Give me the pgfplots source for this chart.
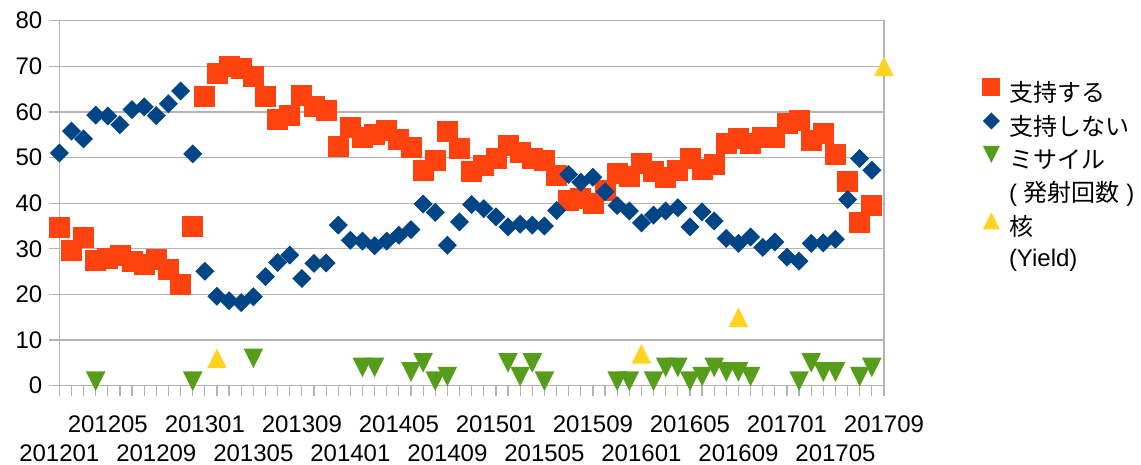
\documentclass[border=0pt]{standalone}
\usepackage{pgfplots}
\usepackage{pgfplotstable}
\pgfplotsset{compat=1.18}
\usepackage{fontspec}
\setmainfont{Liberation Sans}
\newfontfamily\jp{Noto Sans CJK JP}
\definecolor{cred}{HTML}{FF420E}
\definecolor{cblue}{HTML}{004586}
\definecolor{cgreen}{HTML}{579D1C}
\definecolor{cyellow}{HTML}{FFD320}
\definecolor{cgrid}{HTML}{B3B3B3}

\pgfdeclareplotmark{tup}{%
 \pgfpathmoveto{\pgfqpoint{0pt}{\pgfplotmarksize}}%
 \pgfpathlineto{\pgfqpoint{\pgfplotmarksize}{-\pgfplotmarksize}}%
 \pgfpathlineto{\pgfqpoint{-\pgfplotmarksize}{-\pgfplotmarksize}}%
 \pgfpathclose\pgfusepathqfill}
\pgfdeclareplotmark{tdn}{%
 \pgfpathmoveto{\pgfqpoint{0pt}{-\pgfplotmarksize}}%
 \pgfpathlineto{\pgfqpoint{\pgfplotmarksize}{\pgfplotmarksize}}%
 \pgfpathlineto{\pgfqpoint{-\pgfplotmarksize}{\pgfplotmarksize}}%
 \pgfpathclose\pgfusepathqfill}
\pgfdeclareplotmark{dia}{%
 \pgfpathmoveto{\pgfqpoint{0pt}{\pgfplotmarksize}}%
 \pgfpathlineto{\pgfqpoint{\pgfplotmarksize}{0pt}}%
 \pgfpathlineto{\pgfqpoint{0pt}{-\pgfplotmarksize}}%
 \pgfpathlineto{\pgfqpoint{-\pgfplotmarksize}{0pt}}%
 \pgfpathclose\pgfusepathqfill}

\pgfplotstableread{
i s n
0 34.8 51.0
1 29.6 55.8
2 32.4 54.1
3 27.5 59.3
4 27.8 59.1
5 28.6 57.2
6 27.2 60.5
7 26.6 61.1
8 27.7 59.2
9 25.5 61.8
10 22.2 64.6
11 35.0 50.8
12 63.4 25.1
13 68.4 19.6
14 69.9 18.6
15 69.5 18.2
16 67.7 19.5
17 63.4 23.9
18 58.3 27.0
19 59.3 28.6
20 63.7 23.5
21 61.3 26.8
22 60.3 26.9
23 52.5 35.2
24 56.7 31.9
25 54.5 31.7
26 55.0 30.7
27 55.9 31.7
28 53.9 33.0
29 52.2 34.2
30 47.2 39.8
31 49.3 38.0
32 55.8 30.8
33 52.1 35.9
34 47.0 39.7
35 48.2 38.8
36 49.9 37.0
37 52.6 34.8
38 51.2 35.4
39 49.8 35.2
40 49.3 35.0
41 46.0 38.4
42 40.7 46.3
43 41.0 44.6
44 39.9 45.7
45 42.7 42.5
46 46.5 39.5
47 45.9 38.3
48 48.8 35.7
49 47.0 37.4
50 45.7 38.3
51 47.2 39.0
52 49.9 34.8
53 47.4 38.1
54 48.6 36.1
55 53.1 32.3
56 54.1 31.2
57 53.1 32.6
58 54.4 30.3
59 54.5 31.5
60 57.6 28.2
61 58.1 27.3
62 53.8 31.2
63 55.2 31.3
64 50.8 32.1
65 44.8 40.8
66 35.8 49.8
67 39.5 47.2
}\poll

\pgfplotstableread{
i m
3 1
11 1
16 6
25 4
26 4
29 3
30 5
31 1
32 2
37 5
38 2
39 5
40 1
46 1
47 1
49 1
50 4
51 4
52 1
53 2
54 4
55 3
56 3
57 2
61 1
62 5
63 3
64 3
66 2
67 4
}\missile

\pgfplotstableread{
i y
13 6
48 7
56 15
68 70
}\nuke

\begin{document}
\begin{tikzpicture}
\path[use as bounding box] (-29.65pt,-39.65pt) rectangle (540.85pt,192.85pt);
\begin{axis}[
  scale only axis,
  width=412.35pt, height=182.5pt,
  xmin=0, xmax=68, ymin=0, ymax=80,
  ytick={0,10,...,80},
  xtick={4,12,...,68},
  xticklabels={201205,201301,201309,201405,201501,201509,201605,201701,201709},
  extra x ticks={0,8,...,64},
  extra x tick labels={201201,201209,201305,201401,201409,201505,201601,201609,201705},
  xticklabel style={yshift=-6.3pt},
  extra x tick style={xticklabel style={yshift=-14.6pt}},
  minor xtick={0,...,68},
  tick align=outside,
  xtick pos=lower, ytick pos=left,
  major tick length=5pt, minor tick length=5pt,
  tick style={cgrid, line width=0.6pt},
  axis line style={cgrid, line width=0.6pt},
  ymajorgrids, grid style={cgrid, line width=0.6pt},
  /pgf/number format/assume math mode=true,
  tick label style={font=\fontsize{12}{14.4}\selectfont, black},
  legend style={at={(axis description cs:1.112,0.842)}, anchor=north west, draw=none, fill=none,
    font=\fontsize{12}{14.4}\selectfont, row sep=2.2pt, inner sep=0pt,
    nodes={inner sep=1.5pt}},
  legend cell align=left,
  legend image code/.code={\path (-0.25cm,0) (0.25cm,0); \draw[#1,mark size=4.25pt] plot coordinates {(0cm,0.3em)};},
]
\addplot[only marks, mark=square*, mark size=5pt, color=cred] table[x=i,y=s]{\poll};
\addlegendentry{{\jp 支持する}}
\addplot[only marks, mark=dia, mark size=4.75pt, color=cblue] table[x=i,y=n]{\poll};
\addlegendentry{{\jp 支持しない}}
\addplot[only marks, mark=tdn, mark size=4.9pt, color=cgreen] table[x=i,y=m]{\missile};
\addlegendentry{{\jp ミサイル}}
\addlegendimage{empty legend}
\addlegendentry{( {\jp 発射回数} )}
\addplot[only marks, mark=tup, mark size=4.9pt, color=cyellow] table[x=i,y=y]{\nuke};
\addlegendentry{{\jp 核}}
\addlegendimage{empty legend}
\addlegendentry{(Yield)}
\end{axis}
\end{tikzpicture}
\end{document}
